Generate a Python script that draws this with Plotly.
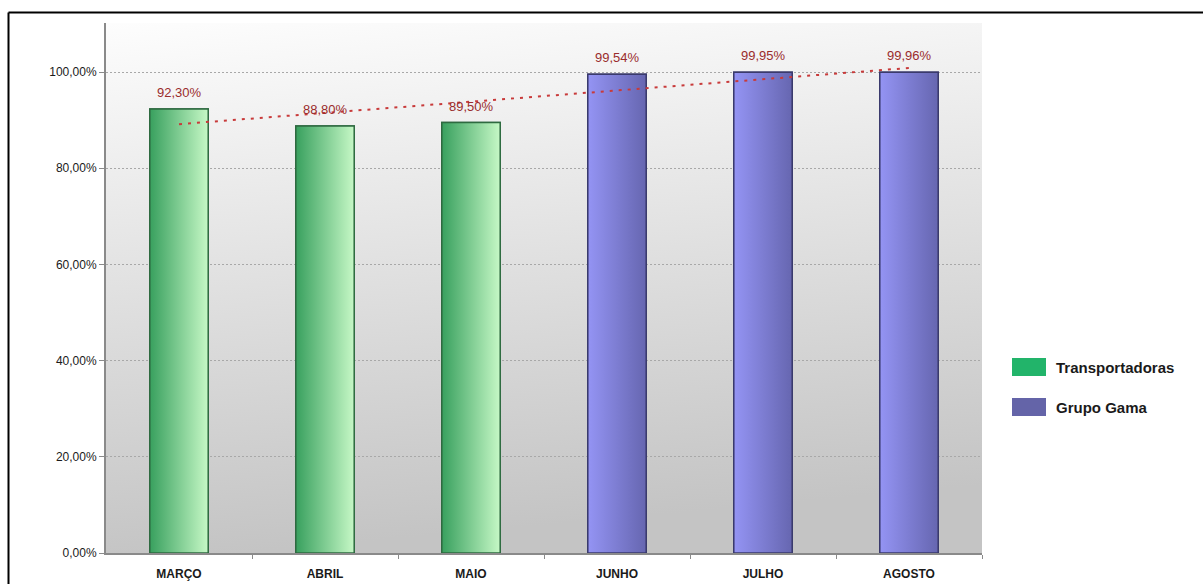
import base64
import numpy as np
import plotly.graph_objects as go

# Monthly service index, first quarter handled by carriers, then by Grupo Gama
months = ["MARÇO", "ABRIL", "MAIO", "JUNHO", "JULHO", "AGOSTO"]
values = [92.30, 88.80, 89.50, 99.54, 99.95, 99.96]
groups = ["Transportadoras", "Transportadoras", "Transportadoras",
          "Grupo Gama", "Grupo Gama", "Grupo Gama"]
series_names = ["Transportadoras", "Grupo Gama"]
y_ticks = [0, 20, 40, 60, 80, 100]

W, H = 1203, 584
ML, MR, MT, MB = 106, 221, 23, 31
Y_MAX = 110.2
BAR_W = 0.4

styles = {
    "Transportadoras": dict(base="#7fd098", left="#38a05e", right="#c6f8c6",
                            edge="#2e6a40", swatch="#22b46a"),
    "Grupo Gama": dict(base="#7c7cd0", left="#9494f4", right="#6666b0",
                       edge="#3a3a6c", swatch="#6464a8"),
}


def px_to_paper(px, py):
    xp = (px - ML) / (W - ML - MR)
    yp = (H - MB - py) / (H - MT - MB)
    return xp, yp


def pct(v):
    return f"{v:.2f}".replace(".", ",") + "%"


fig = go.Figure()
xs = list(range(len(months)))

# solid bars (one trace per series)
for name in series_names:
    idx = [i for i, g in enumerate(groups) if g == name]
    st = styles[name]
    fig.add_trace(go.Bar(
        x=[xs[i] for i in idx], y=[values[i] for i in idx], width=BAR_W,
        name=name, showlegend=False,
        marker=dict(color=st["base"], line=dict(color=st["edge"], width=1.5)),
    ))

# horizontal shading laid over each bar
for i, (v, g) in enumerate(zip(values, groups)):
    st = styles[g]
    x0, x1 = xs[i] - BAR_W / 2, xs[i] + BAR_W / 2
    fig.add_trace(go.Scatter(
        x=[x0, x1, x1, x0, x0], y=[0, 0, v, v, 0],
        mode="lines", fill="toself",
        fillgradient=dict(type="horizontal",
                          colorscale=[[0, st["left"]], [1, st["right"]]]),
        line=dict(color=st["edge"], width=1.5),
        hoverinfo="skip", showlegend=False,
    ))

# linear trend across all months
slope, intercept = np.polyfit(xs, values, 1)
trend = [intercept + slope * x for x in xs]
fig.add_trace(go.Scatter(
    x=xs, y=trend, mode="lines",
    line=dict(color="#c83a3a", width=2, dash="3px,6px"),
    hoverinfo="skip", showlegend=False,
))

annotations = []
for i, v in enumerate(values):
    annotations.append(dict(
        x=xs[i], y=v, xref="x", yref="y", text=pct(v), showarrow=False,
        yanchor="bottom", yshift=7,
        font=dict(family="Liberation Sans", size=13, color="#9a2c2c"),
    ))

shapes = []
# legend swatches and names
legend_rows = [367, 407]
for name, cy in zip(series_names, legend_rows):
    xa, ya = px_to_paper(1012, cy - 9)
    xb, yb = px_to_paper(1046, cy + 9)
    shapes.append(dict(type="rect", xref="paper", yref="paper",
                       x0=xa, x1=xb, y0=yb, y1=ya,
                       fillcolor=styles[name]["swatch"], line=dict(width=0)))
    tx, ty = px_to_paper(1054, cy)
    annotations.append(dict(
        x=tx, y=ty, xref="paper", yref="paper", text=f"<b>{name}</b>",
        showarrow=False, xanchor="left", yanchor="middle",
        font=dict(family="Liberation Sans", size=15, color="#1a1a1a"),
    ))

# outer frame
fx0, fy0 = px_to_paper(8.5, 12.5)
fx1, fy1 = px_to_paper(W + 2, H + 2)
shapes.append(dict(type="line", xref="paper", yref="paper",
                   x0=fx0, x1=fx1, y0=fy0, y1=fy0,
                   line=dict(color="black", width=2)))
shapes.append(dict(type="line", xref="paper", yref="paper",
                   x0=fx0, x1=fx0, y0=fy0, y1=fy1,
                   line=dict(color="black", width=2)))

# plot-area shading from light top to grey bottom
svg = ('<svg xmlns="http://www.w3.org/2000/svg" width="100" height="100" '
       'viewBox="0 0 100 100" preserveAspectRatio="none"><defs>'
       '<linearGradient id="g" x1="0" y1="0" x2="0.15" y2="1">'
       '<stop offset="0" stop-color="#fdfdfd"/>'
       '<stop offset="1" stop-color="#c4c4c4"/></linearGradient></defs>'
       '<rect width="100" height="100" fill="url(#g)"/></svg>')
bg_src = "data:image/svg+xml;base64," + base64.b64encode(svg.encode()).decode()

fig.update_layout(
    width=W, height=H,
    margin=dict(l=ML, r=MR, t=MT, b=MB, pad=0, autoexpand=False),
    paper_bgcolor="white", plot_bgcolor="rgba(0,0,0,0)",
    separators=",.",
    barmode="overlay",
    showlegend=False,
    annotations=annotations,
    shapes=shapes,
    images=[dict(source=bg_src, xref="x", yref="y", x=-0.5, y=Y_MAX,
                 sizex=len(months), sizey=Y_MAX, sizing="stretch",
                 xanchor="left", yanchor="top", layer="below")],
    xaxis=dict(
        range=[-0.5, len(months) - 0.5], tickvals=xs, ticktext=months,
        ticks="", showgrid=False, zeroline=False, automargin=False,
        showline=True, linecolor="#8a8a8a", linewidth=2,
        ticklabelstandoff=9,
        tickfont=dict(family="Liberation Sans", size=12, color="#1a1a1a",
                      weight="bold"),
        minor=dict(tickvals=[x + 0.5 for x in xs], ticks="outside",
                   ticklen=4, tickcolor="#8a8a8a", tickwidth=1),
    ),
    yaxis=dict(
        range=[0, Y_MAX], tickvals=y_ticks,
        ticktext=[pct(t) for t in y_ticks],
        ticks="outside", ticklen=5, tickcolor="#8a8a8a", tickwidth=1,
        showline=True, linecolor="#8a8a8a", linewidth=2,
        showgrid=True, gridcolor="#a8a8a8", gridwidth=1, griddash="2px,2px",
        zeroline=False, automargin=False,
        tickfont=dict(family="Liberation Sans", size=12, color="#1a1a1a"),
    ),
)

fig.write_html("out.html")
